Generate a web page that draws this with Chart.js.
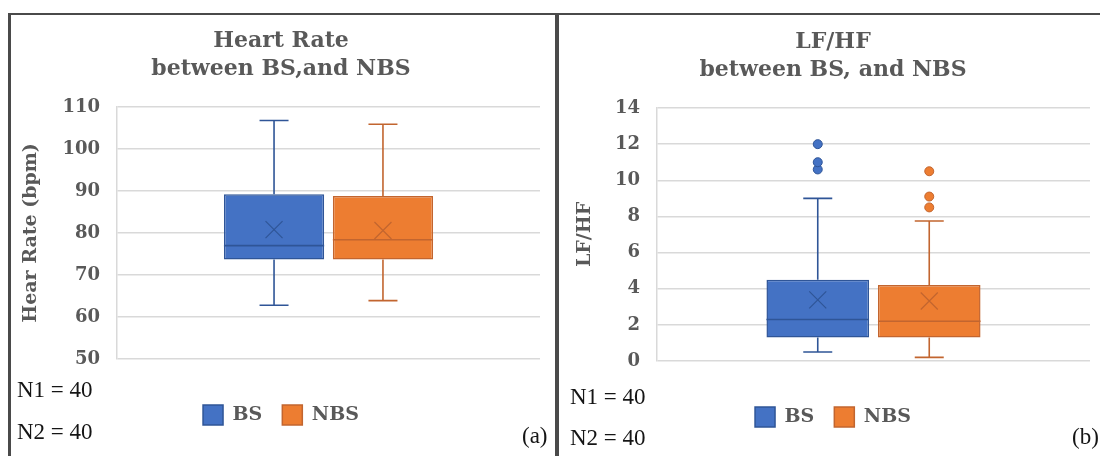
<!DOCTYPE html>
<html>
<head>
<meta charset="utf-8">
<script src="https://cdn.jsdelivr.net/npm/chart.js@4.4.1/dist/chart.umd.min.js"></script>
<style>
  html, body { margin: 0; padding: 0; background: #fff; }
  #page { position: relative; width: 1100px; height: 456px; overflow: hidden; }
  canvas { position: absolute; top: 15px; }
  #hrChart { left: 10px; }
  #lfChart { left: 561px; }
  .rule { position: absolute; background: #4a4a4a; }
  .note { position: absolute; font-family: "Liberation Serif", serif; font-size: 23px; line-height: 23px; color: #151515; white-space: nowrap; }
</style>
</head>
<body>
<div id="page">
  <canvas id="hrChart" width="545" height="441"></canvas>
  <canvas id="lfChart" width="539" height="441"></canvas>

  <div class="rule" style="left:8px;top:13px;width:1092px;height:2px"></div>
  <div class="rule" style="left:8px;top:13px;width:3px;height:443px"></div>
  <div class="rule" style="left:555px;top:13px;width:4px;height:443px"></div>

  <div class="note" style="left:17px;top:378px">N1 = 40</div>
  <div class="note" style="left:17px;top:420px">N2 = 40</div>
  <div class="note" style="left:522px;top:424px">(a)</div>
  <div class="note" style="left:570px;top:385px">N1 = 40</div>
  <div class="note" style="left:570px;top:426px">N2 = 40</div>
  <div class="note" style="left:1072px;top:425px">(b)</div>
</div>

<script>
// groups (series) shown in both panels
const groups = ['BS', 'NBS'];
const fillColors = ['#4472C4', '#ED7D31'];
const lineColors = ['#2F5597', '#C2652F'];

// heart rate (bpm) five-number summary
const hrMin = [62.8, 63.9];
const hrQ1 = [73.7, 73.7];
const hrMedian = [77.0, 78.4];
const hrQ3 = [89.2, 88.8];
const hrMax = [106.8, 105.9];
const hrMean = [80.8, 80.6];
const hrOutliers = [[], []];
const hrAxis = { min: 50, max: 110, step: 10 };

// LF/HF summary, panel (b)
const lfMin = [0.5, 0.2];
const lfQ1 = [1.3, 1.3];
const lfMedian = [2.3, 2.2];
const lfQ3 = [4.5, 4.2];
const lfMax = [9.0, 7.75];
const lfMean = [3.38, 3.32];
const lfOutliers = [[10.6, 11.0, 12.0], [8.5, 9.1, 10.5]];
const lfAxis = { min: 0, max: 14, step: 2 };

const GREY = '#595959';
const GRID = '#D9D9D9';
const SERIF = '"DejaVu Serif", serif';

// draws whiskers, median, mean and outliers on top of the floating bars
const boxPlotPlugin = {
    id: 'boxPlot',
    afterDatasetsDraw(chart, args, opts) {
        const { ctx } = chart;
        const y = chart.scales.y;
        chart.data.datasets.forEach((ds, i) => {
            const bar = chart.getDatasetMeta(i).data[0];
            if (!bar) return;
            const x = bar.x;
            const half = bar.width / 2;
            const cap = 14.5;
            const py = v => y.getPixelForValue(v);

            ctx.save();
            ctx.strokeStyle = ds.borderColor;
            ctx.lineWidth = 1.6;
            ctx.beginPath();
            ctx.moveTo(x, py(opts.q3[i]));
            ctx.lineTo(x, py(opts.max[i]));
            ctx.moveTo(x - cap, py(opts.max[i]));
            ctx.lineTo(x + cap, py(opts.max[i]));
            ctx.moveTo(x, py(opts.q1[i]));
            ctx.lineTo(x, py(opts.min[i]));
            ctx.moveTo(x - cap, py(opts.min[i]));
            ctx.lineTo(x + cap, py(opts.min[i]));
            ctx.moveTo(x - half, py(opts.median[i]));
            ctx.lineTo(x + half, py(opts.median[i]));
            ctx.stroke();

            // mean marker
            const my = py(opts.mean[i]);
            const m = 8.5;
            ctx.lineWidth = 1.2;
            ctx.beginPath();
            ctx.moveTo(x - m, my - m);
            ctx.lineTo(x + m, my + m);
            ctx.moveTo(x - m, my + m);
            ctx.lineTo(x + m, my - m);
            ctx.stroke();

            // outliers
            ctx.fillStyle = ds.backgroundColor;
            ctx.lineWidth = 1;
            opts.outliers[i].forEach(v => {
                ctx.beginPath();
                ctx.arc(x, py(v), 4.5, 0, Math.PI * 2);
                ctx.fill();
                ctx.stroke();
            });
            ctx.restore();
        });
    }
};

function makeBoxChart(id, cfg) {
    const ctx = document.getElementById(id).getContext('2d');
    return new Chart(ctx, {
        type: 'bar',
        data: {
            labels: [''],
            datasets: groups.map((g, i) => ({
                label: g,
                data: [[cfg.q1[i], cfg.q3[i]]],
                backgroundColor: fillColors[i],
                borderColor: lineColors[i],
                borderWidth: 1.5,
                borderSkipped: false,
                categoryPercentage: 0.515,
                barPercentage: 0.92
            }))
        },
        plugins: [boxPlotPlugin],
        options: {
            responsive: false,
            animation: false,
            devicePixelRatio: 1,
            layout: { padding: cfg.padding },
            plugins: {
                title: {
                    display: true,
                    text: cfg.title,
                    color: GREY,
                    font: { family: SERIF, size: 22, weight: 'bold', lineHeight: 28 / 22 },
                    padding: { top: 0, bottom: 24 }
                },
                legend: {
                    position: 'bottom',
                    labels: {
                        boxWidth: 20,
                        boxHeight: 20,
                        padding: 20,
                        color: GREY,
                        font: { family: SERIF, size: 19, weight: 'bold' }
                    }
                },
                tooltip: { enabled: false },
                boxPlot: cfg
            },
            scales: {
                x: {
                    display: true,
                    grid: { display: false },
                    border: { display: false },
                    ticks: { display: false },
                    afterFit: scale => { scale.height = 26; }
                },
                y: {
                    min: cfg.axis.min,
                    max: cfg.axis.max,
                    afterFit: scale => { scale.width = cfg.axisWidth; },
                    ticks: {
                        stepSize: cfg.axis.step,
                        padding: 17,
                        color: GREY,
                        font: { family: SERIF, size: 18, weight: 'bold' }
                    },
                    grid: { color: GRID, lineWidth: 1.5, drawTicks: false },
                    border: { display: true, color: GRID, width: 1.5 },
                    title: {
                        display: true,
                        text: cfg.yTitle,
                        color: GREY,
                        font: { family: SERIF, size: 19, weight: 'bold', lineHeight: 1 },
                        padding: { top: 0, bottom: 0 }
                    }
                }
            }
        }
    });
}

makeBoxChart('hrChart', {
    title: ['Heart Rate', 'between BS,and NBS'],
    yTitle: 'Hear Rate (bpm)',
    axis: hrAxis,
    axisWidth: 95,
    padding: { left: 12, right: 15, top: 12, bottom: 21 },
    min: hrMin, q1: hrQ1, median: hrMedian, q3: hrQ3, max: hrMax,
    mean: hrMean, outliers: hrOutliers
});

makeBoxChart('lfChart', {
    title: ['LF/HF', 'between BS, and NBS'],
    yTitle: 'LF/HF',
    axis: lfAxis,
    axisWidth: 81,
    padding: { left: 15, right: 10, top: 13, bottom: 19 },
    min: lfMin, q1: lfQ1, median: lfMedian, q3: lfQ3, max: lfMax,
    mean: lfMean, outliers: lfOutliers
});
</script>
</body>
</html>
